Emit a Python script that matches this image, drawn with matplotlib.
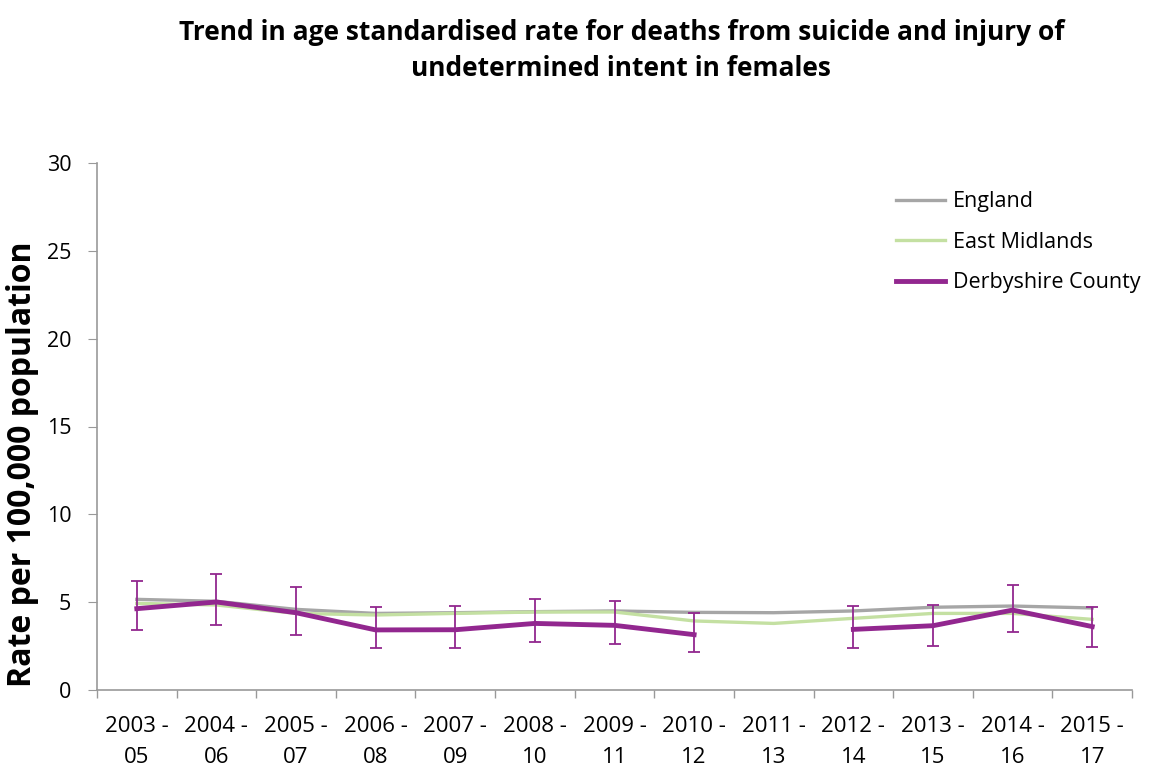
import numpy as np
import matplotlib.pyplot as plt

periods = ["2003 -\n05", "2004 -\n06", "2005 -\n07", "2006 -\n08", "2007 -\n09",
           "2008 -\n10", "2009 -\n11", "2010 -\n12", "2011 -\n13", "2012 -\n14",
           "2013 -\n15", "2014 -\n16", "2015 -\n17"]
england = [5.16, 5.05, 4.59, 4.36, 4.40, 4.46, 4.50, 4.42, 4.40, 4.50, 4.71, 4.78, 4.67]
east_midlands = [4.93, 4.84, 4.36, 4.27, 4.36, 4.44, 4.44, 3.93, 3.79, 4.08, 4.36, 4.36, 4.02]
derbyshire = [4.63, 5.01, 4.40, 3.42, 3.43, 3.79, 3.68, 3.15, np.nan, 3.45, 3.66, 4.55, 3.61]
derby_lower = [3.40, 3.72, 3.15, 2.37, 2.37, 2.71, 2.60, 2.14, np.nan, 2.41, 2.52, 3.32, 2.47]
derby_upper = [6.21, 6.58, 5.88, 4.74, 4.78, 5.18, 5.07, 4.40, np.nan, 4.78, 4.86, 5.99, 4.72]

plt.rcParams['font.family'] = ['Open Sans', 'DejaVu Sans']

fig = plt.figure(figsize=(11.57, 7.67), dpi=100)
ax = fig.add_axes([97/1157, 1-690/767, (1132-97)/1157, (690-163)/767])

x = np.arange(len(periods))
d = np.array(derbyshire)
err = [d - np.array(derby_lower), np.array(derby_upper) - d]

ax.plot(x, england, color="#A6A6A6", lw=2.4, label="England", zorder=2)
ax.plot(x, east_midlands, color="#C4E0A2", lw=2.4, label="East Midlands", zorder=3)
ax.errorbar(x, d, yerr=err, fmt="none", ecolor="#92278F", elinewidth=1.3,
            capsize=4.2, capthick=1.3, zorder=4)
ax.plot(x, d, color="#92278F", lw=3.5, label="Derbyshire County", zorder=5)

ax.set_xlim(-0.5, len(periods) - 0.5)
ax.set_ylim(0, 30)
ax.set_yticks(range(0, 31, 5))
ax.set_xticks(x)
ax.set_xticklabels(periods, fontsize=16, linespacing=1.6)
ax.set_xticks(np.arange(-0.5, len(periods), 1), minor=True)
ax.tick_params(axis="x", which="major", length=0, pad=19)
ax.tick_params(axis="x", which="minor", length=5.5, color="#999999", width=1)
ax.tick_params(axis="y", length=6.5, color="#999999", labelsize=15.5, pad=12)

for side in ("top", "right"):
    ax.spines[side].set_visible(False)
for side in ("left", "bottom"):
    ax.spines[side].set_color("#999999")
    ax.spines[side].set_linewidth(1.2)

ax.set_ylabel("Rate per 100,000 population", fontsize=23, fontweight="bold")
ax.yaxis.set_label_coords(-0.056, 0.428)

fig.text(0.537, 0.975, "Trend in age standardised rate for deaths from suicide and injury of\nundetermined intent in females",
         ha="center", va="top", fontsize=19, fontweight="bold", linespacing=1.4)

ax.legend(loc="upper left", bbox_to_anchor=(0.753, 0.983), frameon=False, fontsize=15.5,
          handlelength=2.3, handletextpad=0.37, labelspacing=0.9)

fig.savefig("out.png", dpi=100)
